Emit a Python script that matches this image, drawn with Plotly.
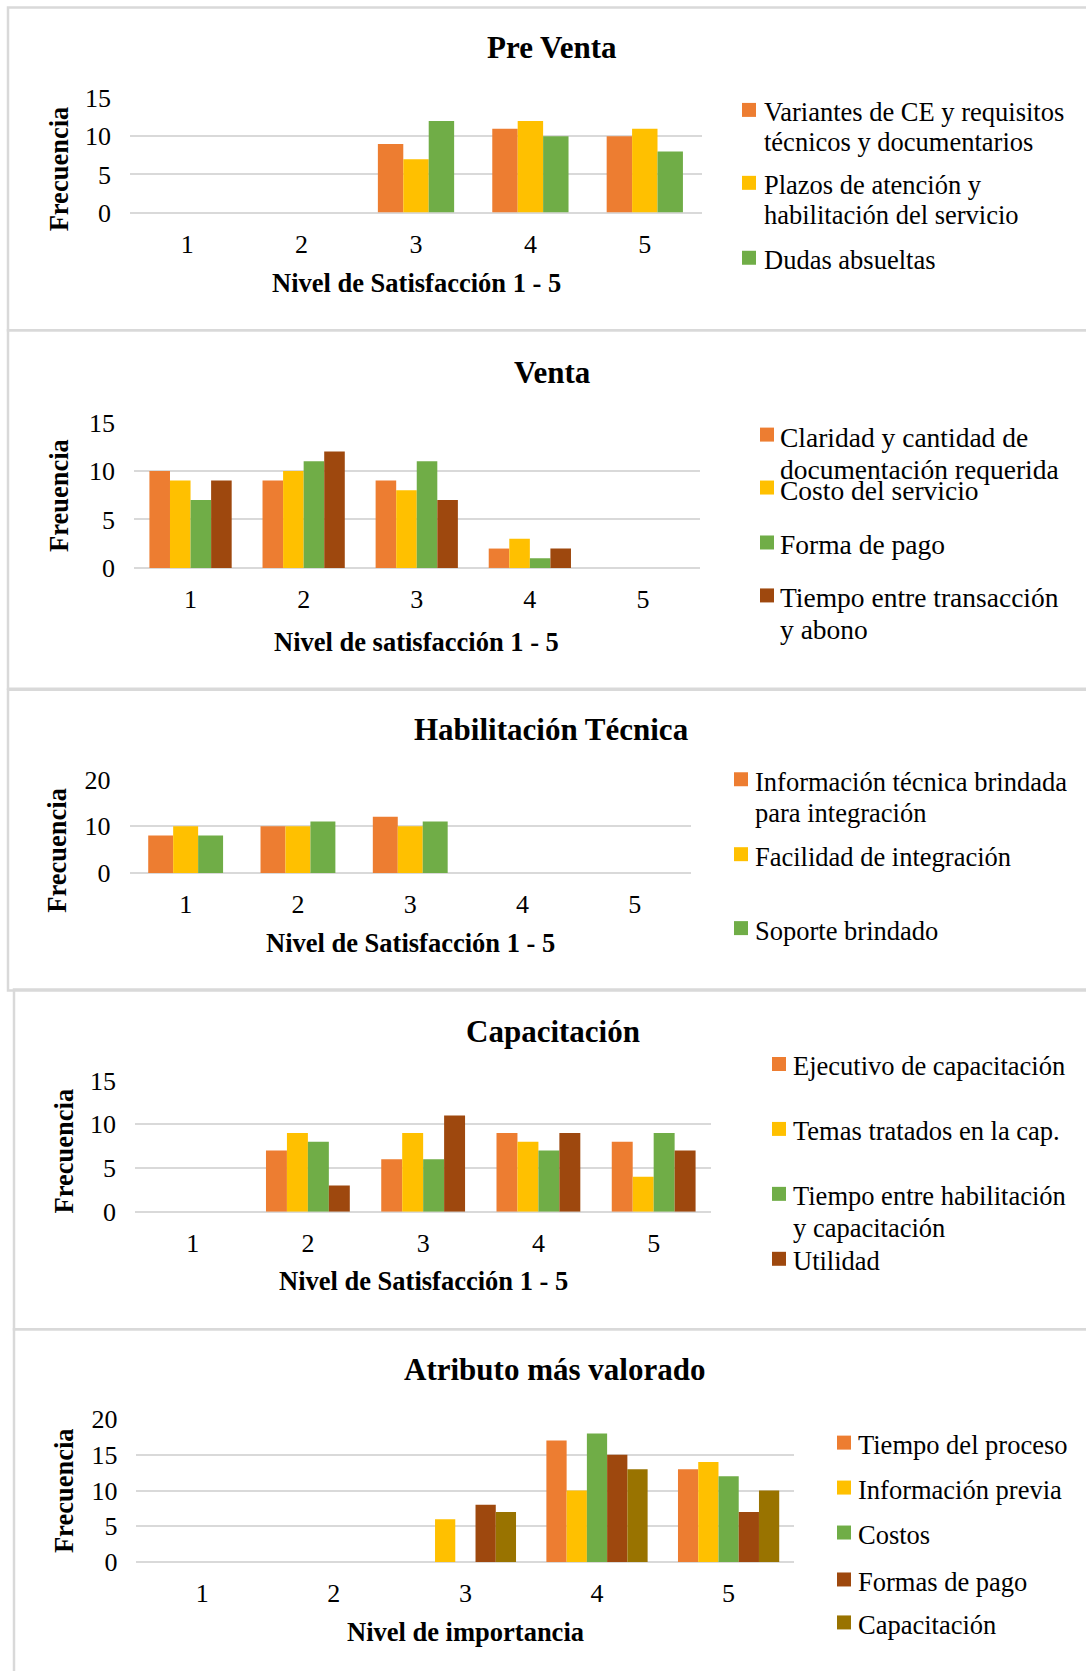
import plotly.graph_objects as go

W, H = 1086, 1671
FONT = "Liberation Serif"

# page-to-figure vertical calibration (figure is drawn slightly offset/compressed on the page)
Y0 = 13.5
SY = 0.9836

ORANGE = "#ED7D31"
YELLOW = "#FFC000"
GREEN = "#70AD47"
BROWN = "#9E480E"
OLIVE = "#997300"
GRID = "#D9D9D9"
BORDER = "#D9D9D9"

categories = ["1", "2", "3", "4", "5"]

# --- Pre Venta ---
pre_venta_names = [
    "Variantes de CE y requisitos<br>técnicos y documentarios",
    "Plazos de atención y<br>habilitación del servicio",
    "Dudas absueltas",
]
pre_venta_variantes = [0, 0, 9, 11, 10]
pre_venta_plazos = [0, 0, 7, 12, 11]
pre_venta_dudas = [0, 0, 12, 10, 8]

# --- Venta ---
venta_names = [
    "Claridad y cantidad de<br>documentación requerida",
    "Costo del servicio",
    "Forma de pago",
    "Tiempo entre transacción<br>y abono",
]
venta_claridad = [10, 9, 9, 2, 0]
venta_costo = [9, 10, 8, 3, 0]
venta_forma = [7, 11, 11, 1, 0]
venta_tiempo = [9, 12, 7, 2, 0]

# --- Habilitación Técnica ---
habilitacion_names = [
    "Información técnica brindada<br>para integración",
    "Facilidad de integración",
    "Soporte brindado",
]
habilitacion_informacion = [8, 10, 12, 0, 0]
habilitacion_facilidad = [10, 10, 10, 0, 0]
habilitacion_soporte = [8, 11, 11, 0, 0]

# --- Capacitación ---
capacitacion_names = [
    "Ejecutivo de capacitación",
    "Temas tratados en la cap.",
    "Tiempo entre habilitación<br>y capacitación",
    "Utilidad",
]
capacitacion_ejecutivo = [0, 7, 6, 9, 8]
capacitacion_temas = [0, 9, 9, 8, 4]
capacitacion_tiempo = [0, 8, 6, 7, 9]
capacitacion_utilidad = [0, 3, 11, 9, 7]

# --- Atributo más valorado ---
atributo_names = [
    "Tiempo del proceso",
    "Información previa",
    "Costos",
    "Formas de pago",
    "Capacitación",
]
atributo_tiempo = [0, 0, 0, 17, 13]
atributo_informacion = [0, 0, 6, 10, 14]
atributo_costos = [0, 0, 0, 18, 12]
atributo_formas = [0, 0, 8, 15, 7]
atributo_capacitacion = [0, 0, 7, 13, 10]

panels = [
    dict(title="Pre Venta", xtitle="Nivel de Satisfacción 1 - 5", ytitle="Frecuencia",
         names=pre_venta_names,
         values=[pre_venta_variantes, pre_venta_plazos, pre_venta_dudas],
         colors=[ORANGE, YELLOW, GREEN], ymax=15, dtick=5,
         plot=(130, 97.7, 702, 212.3), title_xy=(552, 47), xtitle_y=283, ytitle_xy=(59, 169),
         sq_x=742, text_x=763, leg_y=[112, 185, 260], line_gap=30, leg_font=26.5,
         box=(8, 7, 330)),
    dict(title="Venta", xtitle="Nivel de satisfacción 1 - 5", ytitle="Freuencia",
         names=venta_names,
         values=[venta_claridad, venta_costo, venta_forma, venta_tiempo],
         colors=[ORANGE, YELLOW, GREEN, BROWN], ymax=15, dtick=5,
         plot=(134, 422.3, 699.5, 568), title_xy=(552, 372), xtitle_y=642, ytitle_xy=(59, 496),
         sq_x=760, text_x=779, leg_y=[437, 490, 545, 598], line_gap=32, leg_font=27.5,
         box=(8, 330, 689)),
    dict(title="Habilitación Técnica", xtitle="Nivel de Satisfacción 1 - 5", ytitle="Frecuencia",
         names=habilitacion_names,
         values=[habilitacion_informacion, habilitacion_facilidad, habilitacion_soporte],
         colors=[ORANGE, YELLOW, GREEN], ymax=20, dtick=10,
         plot=(129.5, 779.7, 691, 873.3), title_xy=(551, 730), xtitle_y=943, ytitle_xy=(57, 851),
         sq_x=734, text_x=753.5, leg_y=[782, 857, 931], line_gap=31, leg_font=26.5,
         box=(8, 690, 991)),
    dict(title="Capacitación", xtitle="Nivel de Satisfacción 1 - 5", ytitle="Frecuencia",
         names=capacitacion_names,
         values=[capacitacion_ejecutivo, capacitacion_temas, capacitacion_tiempo,
                 capacitacion_utilidad],
         colors=[ORANGE, YELLOW, GREEN, BROWN], ymax=15, dtick=5,
         plot=(135, 1081, 711.3, 1212.3), title_xy=(553, 1032), xtitle_y=1282, ytitle_xy=(64, 1152),
         sq_x=772, text_x=791.5, leg_y=[1067, 1132, 1197, 1262], line_gap=31.5, leg_font=26.5,
         box=(14, 990, 1330)),
    dict(title="Atributo más valorado", xtitle="Nivel de importancia", ytitle="Frecuencia",
         names=atributo_names,
         values=[atributo_tiempo, atributo_informacion, atributo_costos, atributo_formas,
                 atributo_capacitacion],
         colors=[ORANGE, YELLOW, GREEN, BROWN, OLIVE], ymax=20, dtick=5,
         plot=(136.4, 1420, 794.4, 1563), title_xy=(554, 1370), xtitle_y=1633, ytitle_xy=(64, 1492),
         sq_x=837, text_x=856.5, leg_y=[1446, 1491, 1536, 1583, 1626], line_gap=31, leg_font=26.5,
         box=(14, 1330, 1700)),
]

GAP_WIDTH = 1.5  # gap between category groups, as a multiple of one bar width
SQUARE = 14


def fx(x):
    return x / W


def fy(y):
    return 1 - ((y - Y0) / SY) / H


fig = go.Figure()
layout = dict(
    width=W, height=H, margin=dict(l=0, r=0, t=0, b=0),
    paper_bgcolor="white", plot_bgcolor="white",
    barmode="overlay", showlegend=False,
    font=dict(family=FONT, color="black"),
)
annotations = []
shapes = []

for k, p in enumerate(panels, start=1):
    xref = "x" if k == 1 else f"x{k}"
    yref = "y" if k == 1 else f"y{k}"
    xkey = "xaxis" if k == 1 else f"xaxis{k}"
    ykey = "yaxis" if k == 1 else f"yaxis{k}"
    x0, y0, x1, y1 = p["plot"]

    n = len(p["values"])
    bar_w = 1.0 / (n + GAP_WIDTH)
    for i, (name, vals, col) in enumerate(zip(p["names"], p["values"], p["colors"])):
        fig.add_trace(go.Bar(
            x=categories, y=vals, name=name.replace("<br>", " "),
            width=bar_w, offset=-n * bar_w / 2 + i * bar_w,
            marker=dict(color=col, line=dict(width=0)),
            xaxis=xref, yaxis=yref, hoverinfo="x+y+name",
        ))

    layout[xkey] = dict(
        domain=[fx(x0), fx(x1)], anchor=yref, type="category",
        range=[-0.5, 4.5], showgrid=False, showline=False, zeroline=False,
        ticks="", ticklabelstandoff=13,
        tickfont=dict(family=FONT, size=26, color="black"),
    )
    layout[ykey] = dict(
        domain=[fy(y1), fy(y0)], anchor=xref, range=[0, p["ymax"]],
        dtick=p["dtick"], tick0=0, showgrid=True, gridcolor=GRID, gridwidth=2,
        zeroline=True, zerolinecolor=GRID, zerolinewidth=2, showline=False,
        ticks="", ticklabelstandoff=18,
        tickfont=dict(family=FONT, size=26, color="black"),
    )

    # panel frame
    bx, by0, by1 = p["box"]
    shapes.append(dict(type="rect", xref="paper", yref="paper",
                       x0=fx(bx), x1=fx(W + 20), y0=fy(by1), y1=fy(by0),
                       line=dict(color=BORDER, width=2.5), layer="below"))

    # chart title
    tx, ty = p["title_xy"]
    annotations.append(dict(text=f"<b>{p['title']}</b>", x=fx(tx), y=fy(ty),
                            xref="paper", yref="paper", showarrow=False,
                            xanchor="center", yanchor="middle",
                            font=dict(family=FONT, size=31, color="black")))
    # axis titles
    annotations.append(dict(text=f"<b>{p['xtitle']}</b>", x=fx((x0 + x1) / 2), y=fy(p["xtitle_y"]),
                            xref="paper", yref="paper", showarrow=False,
                            xanchor="center", yanchor="middle",
                            font=dict(family=FONT, size=26.5, color="black")))
    yx, yy = p["ytitle_xy"]
    annotations.append(dict(text=f"<b>{p['ytitle']}</b>", x=fx(yx), y=fy(yy),
                            xref="paper", yref="paper", showarrow=False, textangle=-90,
                            xanchor="center", yanchor="middle",
                            font=dict(family=FONT, size=26.5, color="black")))

    # legend: colour square plus label lines
    for name, col, ly in zip(p["names"], p["colors"], p["leg_y"]):
        shapes.append(dict(type="rect", xref="paper", yref="paper",
                           x0=fx(p["sq_x"]), x1=fx(p["sq_x"] + SQUARE),
                           y0=fy(ly - 2.5 + SQUARE / 2), y1=fy(ly - 2.5 - SQUARE / 2),
                           fillcolor=col, line=dict(width=0)))
        for j, line in enumerate(name.split("<br>")):
            annotations.append(dict(text=line, x=fx(p["text_x"]), y=fy(ly + j * p["line_gap"]),
                                    xref="paper", yref="paper", showarrow=False,
                                    xanchor="left", yanchor="middle", borderpad=0,
                                    font=dict(family=FONT, size=p["leg_font"], color="black")))

layout["annotations"] = annotations
layout["shapes"] = shapes
fig.update_layout(**layout)

fig.write_html("out.html")
